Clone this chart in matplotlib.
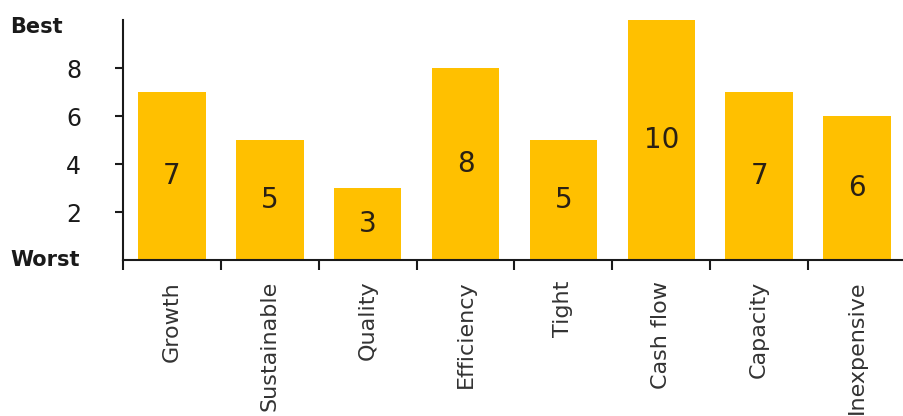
import matplotlib
matplotlib.use("Agg")
import matplotlib.pyplot as plt
import matplotlib.transforms as mtransforms

# data
categories = ["Growth", "Sustainable", "Quality", "Efficiency", "Tight",
              "Cash flow", "Capacity", "Inexpensive"]
scores = [7, 5, 3, 8, 5, 10, 7, 6]
ytick_vals = [0, 2, 4, 6, 8, 10]
ytick_labels = ["Worst", "2", "4", "6", "8", "Best"]

BAR_COLOR = "#FFC000"
TEXT_COLOR = "#1a1a1a"

plt.rcParams["font.family"] = ["DejaVu Sans"]

fig = plt.figure(figsize=(9.04, 4.16), dpi=100)
ax = fig.add_axes([123 / 904, 156 / 416, (906 - 123) / 904, 240 / 416])

x = list(range(len(categories)))
bars = ax.bar(x, scores, width=0.69, color=BAR_COLOR, zorder=2)

# value labels, centred in each bar
for xi, v in zip(x, scores):
    ax.text(xi, v / 2, str(v), ha="center", va="center",
            fontsize=20, color="#2a2014")

ax.set_xlim(-0.5, len(categories) - 0.5)
ax.set_ylim(0, 10)

# numeric ticks on the axis, Best/Worst as left-aligned text at the ends
ax.set_yticks(ytick_vals)
ax.set_yticklabels(["" if v in (0, 10) else l
                    for v, l in zip(ytick_vals, ytick_labels)], fontsize=17)
ax.tick_params(axis="y", length=6, width=1.5, colors=TEXT_COLOR, pad=24)
ax.yaxis.get_major_ticks()[0].tick1line.set_visible(False)
ax.yaxis.get_major_ticks()[-1].tick1line.set_visible(False)

trans = mtransforms.blended_transform_factory(fig.transFigure, ax.transData)
for v, l in zip(ytick_vals, ytick_labels):
    if v in (0, 10):
        shift = -5 / 72 if v == 10 else 0  # nudge "Best" a bit down
        t = trans + mtransforms.ScaledTranslation(0, shift, fig.dpi_scale_trans)
        ax.text(10 / 904, v, l, transform=t, ha="left", va="center",
                fontsize=15, fontweight="bold", color=TEXT_COLOR)

# category labels on minor positions, tick marks between bars
ax.set_xticks([i + 0.5 for i in range(-1, len(categories))])
ax.set_xticklabels([])
ax.tick_params(axis="x", which="major", length=7, width=1.5, colors=TEXT_COLOR)
ax.set_xticks(x, minor=True)
ax.set_xticklabels(categories, minor=True, rotation=90, fontsize=16,
                   color="#333333")
ax.tick_params(axis="x", which="minor", length=0, pad=15)

for side in ("top", "right"):
    ax.spines[side].set_visible(False)
for side in ("left", "bottom"):
    ax.spines[side].set_linewidth(1.5)
    ax.spines[side].set_color(TEXT_COLOR)

fig.savefig("out.png", dpi=100)
